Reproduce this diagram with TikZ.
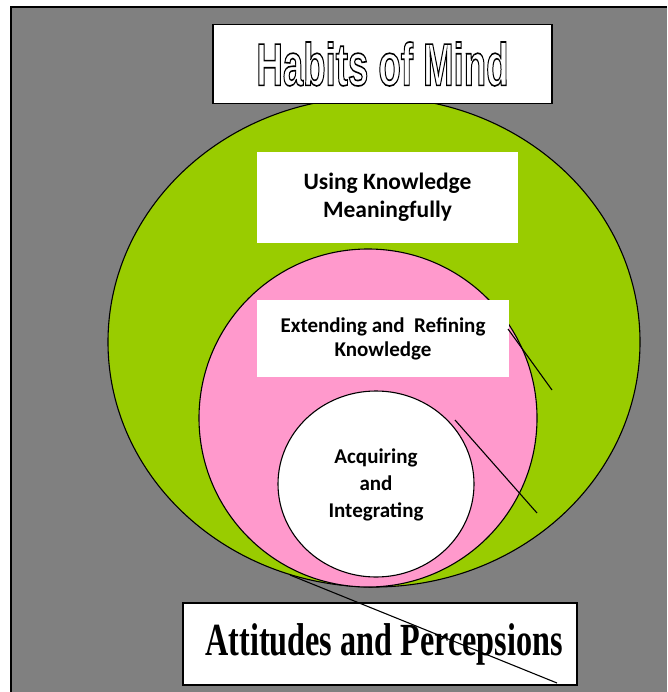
\documentclass[tikz,border=0pt]{standalone}
\usepackage{fontspec}
\setmainfont{Liberation Serif}
\newfontfamily\boxfont{Carlito}
\newfontfamily\titlefont{Liberation Sans}
\usetikzlibrary{positioning}
\usepackage{xcolor}
\definecolor{HMGray}{RGB}{128,128,128}
\definecolor{HMGreen}{RGB}{153,204,0}
\definecolor{HMPink}{RGB}{255,153,204}
% hollow (stroked) glyphs for the title
\newcommand{\hollowtext}[1]{\special{pdf:literal direct 1 Tr 1.6 w}#1\special{pdf:literal direct 0 Tr}}

\begin{document}
\begin{tikzpicture}[
x=1pt,y=-1pt,
ring/.style={draw=black,line width=1.1pt},
framebox/.style={
    rectangle,
    draw=black,
    line width=1.5pt,
    fill=white,
    inner sep=0pt
},
labelbox/.style={
    rectangle,
    fill=white,
    inner sep=0pt,
    align=center
},
tickline/.style={draw=black,line width=1.1pt}
]
\useasboundingbox (0,0) rectangle (667,692);

% background panel
\fill[HMGray] (11,7) rectangle (667,692);
\draw[line width=1.5pt] (11,692) -- (11,7) -- (667,7);

% nested circles
\draw[ring,fill=HMGreen] (374,342) ellipse [x radius=266,y radius=245];
\draw[ring,fill=HMPink] (368,418) circle [radius=169];
\draw[ring,fill=white] (376,484) ellipse [x radius=98,y radius=93];

% labels
\node[framebox,minimum width=339,minimum height=79] (title) at (382.5,64)
    {\titlefont\bfseries\fontsize{60}{60}\selectfont\scalebox{0.61}[1]{\hollowtext{Habits of Mind}}};
\node[labelbox,minimum width=261,minimum height=91,
      font=\boxfont\bfseries\fontsize{23.5}{28}\selectfont] (using) at (387.5,197.5)
    {Using Knowledge\\Meaningfully};
\node[labelbox,minimum width=252,minimum height=77,
      font=\boxfont\bfseries\fontsize{21}{24}\selectfont] (extending) at (383,338.5)
    {Extending and\ \ Refining\\Knowledge};
\node[align=center,inner sep=0pt,
      font=\boxfont\bfseries\fontsize{21}{27}\selectfont] (acquiring) at (376,485)
    {Acquiring\\and\\Integrating};
\node[framebox,minimum width=394,minimum height=82] (attitudes) at (380,644)
    {\bfseries\fontsize{46}{46}\selectfont\hspace{8pt}\scalebox{0.70}[1]{Attitudes and Percepsions}};

% stray strokes
\coordinate (tickA1) at (508,329);
\coordinate (tickA2) at (552,390);
\coordinate (tickB1) at (455,420);
\coordinate (tickB2) at (537,513);
\coordinate (tickC1) at (290,575);
\coordinate (tickC2) at (557,683);
\draw[tickline] (tickA1) -- (tickA2);
\draw[tickline] (tickB1) -- (tickB2);
\draw[tickline] (tickC1) -- (tickC2);

\end{tikzpicture}
\end{document}
